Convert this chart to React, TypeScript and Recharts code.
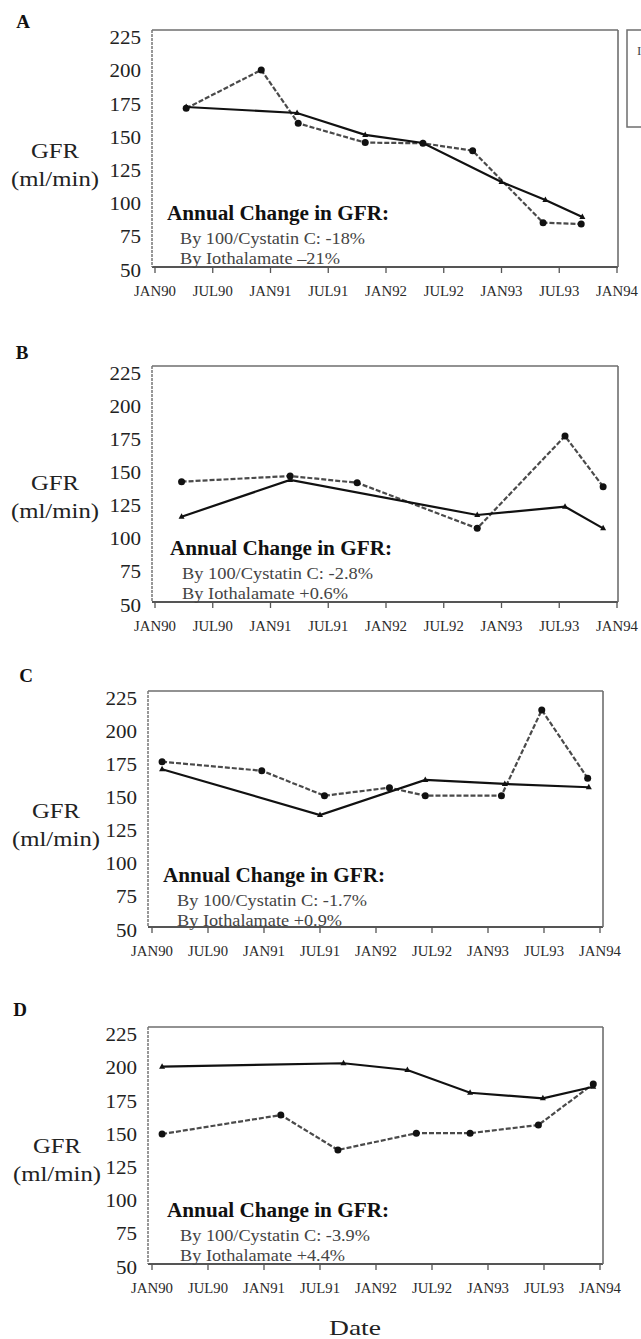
import React from "react";
import { LineChart, Line, XAxis, YAxis } from "recharts";

// Dates are decimal years: JAN90 = 1990, JUL90 = 1990.5
const X_TICKS = [1990, 1990.5, 1991, 1991.5, 1992, 1992.5, 1993, 1993.5, 1994];
const X_TICK_LABELS = ["JAN90", "JUL90", "JAN91", "JUL91", "JAN92", "JUL92", "JAN93", "JUL93", "JAN94"];
const Y_TICKS = [50, 75, 100, 125, 150, 175, 200, 225];

// Panel A
const A_CYS_DATE = [1990.27, 1991.23, 1991.82, 1992.32, 1993.0, 1993.38, 1993.7];
const A_CYS_GFR = [170.5, 166, 149.5, 143.4, 114, 100.5, 87.7];
const A_IOT_DATE = [1990.27, 1990.92, 1991.24, 1991.82, 1992.32, 1992.75, 1993.36, 1993.69];
const A_IOT_GFR = [169.5, 198.4, 158.2, 143.7, 143.2, 137.6, 83.4, 82.4];

// Panel B
const B_CYS_DATE = [1990.23, 1991.17, 1992.79, 1993.55, 1993.88];
const B_CYS_GFR = [114.5, 142.3, 115.8, 122.1, 105.7];
const B_IOT_DATE = [1990.23, 1991.17, 1991.75, 1992.79, 1993.55, 1993.88];
const B_IOT_GFR = [141, 145.3, 140.2, 105.7, 175.5, 137.2];

// Panel C
const C_CYS_DATE = [1990.09, 1991.5, 1992.44, 1993.15, 1993.9];
const C_CYS_GFR = [169.3, 134.7, 161.2, 158.2, 155.7];
const C_IOT_DATE = [1990.09, 1990.98, 1991.54, 1992.12, 1992.44, 1993.12, 1993.48, 1993.89];
const C_IOT_GFR = [175, 168.2, 149.3, 155.4, 149.3, 149.3, 214.1, 162.5];

// Panel D
const D_CYS_DATE = [1990.09, 1991.71, 1992.28, 1992.84, 1993.49, 1993.94];
const D_CYS_GFR = [198.6, 201.2, 196.1, 179, 174.8, 183.5];
const D_IOT_DATE = [1990.09, 1991.15, 1991.66, 1992.36, 1992.84, 1993.45, 1993.94];
const D_IOT_GFR = [147.9, 162.2, 135.9, 148.5, 148.5, 154.7, 185.6];

const PANEL_LETTERS = ["A", "B", "C", "D"];
const ANNUAL_CYS = ["-18%", "-2.8%", "-1.7%", "-3.9%"];
const ANNUAL_IOT = ["\u201321%", "+0.6%", "+0.9%", "+4.4%"];

const toPoints = (dates: number[], gfr: number[]) => dates.map((t, i) => ({ t, v: gfr[i] }));

const SERIES = [
  { cys: toPoints(A_CYS_DATE, A_CYS_GFR), iot: toPoints(A_IOT_DATE, A_IOT_GFR) },
  { cys: toPoints(B_CYS_DATE, B_CYS_GFR), iot: toPoints(B_IOT_DATE, B_IOT_GFR) },
  { cys: toPoints(C_CYS_DATE, C_CYS_GFR), iot: toPoints(C_IOT_DATE, C_IOT_GFR) },
  { cys: toPoints(D_CYS_DATE, D_CYS_GFR), iot: toPoints(D_IOT_DATE, D_IOT_GFR) },
];

// page layout of each panel (plot frame + text placement)
const LAYOUT = [
  { left: 152, top: 30, right: 618, bottom: 267, padL: 3, padR: 1, letter: [23, 21], gfrX: 55, gfrY: 150, noteX: 167, noteY: 213, subX: 180, w2: 185, w3: 160 },
  { left: 152, top: 366, right: 618, bottom: 602, padL: 3, padR: 1, letter: [22, 352], gfrX: 55, gfrY: 482, noteX: 170, noteY: 548, subX: 182, w2: 191, w3: 166 },
  { left: 148, top: 691, right: 603, bottom: 927, padL: 4, padR: 3, letter: [26, 675], gfrX: 56, gfrY: 810, noteX: 163, noteY: 875, subX: 177, w2: 190, w3: 165 },
  { left: 148, top: 1027, right: 603, bottom: 1264, padL: 4, padR: 3, letter: [20, 1009], gfrX: 57, gfrY: 1145, noteX: 167, noteY: 1210, subX: 180, w2: 190, w3: 165 },
];

const SERIF = "'Liberation Serif', 'Times New Roman', serif";
const FRAME = "#6e6e6e";

const XTick = (props: any) => {
  const { x, y, payload } = props;
  const label = X_TICK_LABELS[X_TICKS.indexOf(payload.value)] ?? "";
  return (
    <text
      x={x}
      y={y}
      dy={16}
      textAnchor="middle"
      dominantBaseline="central"
      fontFamily={SERIF}
      fontSize={14}
      fill="#2a2a2a"
      textLength={label.startsWith("JUL") ? 40 : 42}
      lengthAdjust="spacingAndGlyphs"
    >
      {label}
    </text>
  );
};

const YTick = (props: any) => {
  const { x, y, payload } = props;
  const s = String(payload.value);
  return (
    <text
      x={x}
      y={y}
      dy={3}
      textAnchor="end"
      dominantBaseline="central"
      fontFamily={SERIF}
      fontSize={19}
      fill="#222"
      textLength={s.length * 10.5}
      lengthAdjust="spacingAndGlyphs"
    >
      {s}
    </text>
  );
};

const triDot = (p: any) => {
  const { cx, cy, key } = p;
  if (cx == null || cy == null) return <g key={key} />;
  return <path key={key} d={`M${cx},${cy - 3.5}L${cx + 3},${cy + 2}L${cx - 3},${cy + 2}Z`} fill="#111" />;
};

function Panel({ idx }: { idx: number }) {
  const f = LAYOUT[idx];
  const s = SERIES[idx];
  const chartTop = f.top - 10;
  const chartH = f.bottom - f.top + 10 + 40;
  const yAxisW = 60;
  return (
    <div style={{ position: "absolute", left: 0, top: chartTop }}>
      <LineChart
        width={641}
        height={chartH}
        margin={{ top: 9, right: 641 - f.right - 1, bottom: 10, left: f.left - yAxisW }}
      >
        <XAxis
          dataKey="t"
          type="number"
          domain={[1990, 1994]}
          ticks={X_TICKS}
          interval={0}
          padding={{ left: f.padL, right: f.padR }}
          height={30}
          tickSize={6}
          tick={<XTick />}
          tickLine={{ stroke: "#555", strokeWidth: 1.3 }}
          axisLine={{ stroke: "#555", strokeWidth: 1.8 }}
          allowDataOverflow
        />
        <XAxis
          xAxisId="top"
          orientation="top"
          dataKey="t"
          type="number"
          domain={[1990, 1994]}
          height={1}
          tick={false}
          tickLine={false}
          axisLine={{ stroke: FRAME, strokeWidth: 1.6 }}
        />
        <YAxis
          type="number"
          domain={[50, 228.5]}
          ticks={Y_TICKS}
          interval={0}
          width={yAxisW}
          tickSize={0}
          tickMargin={11}
          tick={<YTick />}
          tickLine={false}
          axisLine={{ stroke: "#777", strokeWidth: 1.5, strokeDasharray: "3 1" }}
          allowDataOverflow
        />
        <YAxis
          yAxisId="right"
          orientation="right"
          type="number"
          domain={[50, 228.5]}
          width={1}
          tick={false}
          tickLine={false}
          axisLine={{ stroke: FRAME, strokeWidth: 1.6 }}
        />
        <Line
          data={s.iot}
          dataKey="v"
          type="linear"
          stroke="#4a4a4a"
          strokeWidth={2.2}
          strokeDasharray="5 2"
          dot={{ r: 3.5, fill: "#111", stroke: "#111", strokeWidth: 0 }}
          isAnimationActive={false}
        />
        <Line
          data={s.cys}
          dataKey="v"
          type="linear"
          stroke="#111"
          strokeWidth={2.2}
          dot={triDot}
          isAnimationActive={false}
        />
      </LineChart>
    </div>
  );
}

export default function App() {
  return (
    <div style={{ position: "absolute", left: 0, top: 0, width: 641, height: 1339, background: "#fff" }}>
      {[0, 1, 2, 3].map((i) => (
        <Panel key={i} idx={i} />
      ))}
      <svg
        width={641}
        height={1339}
        style={{ position: "absolute", left: 0, top: 0, pointerEvents: "none" }}
        fontFamily={SERIF}
      >
        {LAYOUT.map((f, i) => (
          <g key={i}>
            <text x={f.letter[0]} y={f.letter[1]} textAnchor="middle" dominantBaseline="central" fontSize={19} fontWeight="bold" fill="#111">
              {PANEL_LETTERS[i]}
            </text>
            <text x={f.gfrX} y={f.gfrY} textAnchor="middle" dominantBaseline="central" fontSize={22} fill="#222" textLength={48} lengthAdjust="spacingAndGlyphs">
              GFR
            </text>
            <text x={f.gfrX} y={f.gfrY + 28} textAnchor="middle" dominantBaseline="central" fontSize={22} fill="#222" textLength={88} lengthAdjust="spacingAndGlyphs">
              (ml/min)
            </text>
            <text x={f.noteX} y={f.noteY} dominantBaseline="central" fontSize={20} fontWeight="bold" fill="#111" textLength={222} lengthAdjust="spacingAndGlyphs">
              Annual Change in GFR:
            </text>
            <text x={f.subX} y={f.noteY + 25} dominantBaseline="central" fontSize={17} fill="#444" textLength={f.w2} lengthAdjust="spacingAndGlyphs">
              {`By 100/Cystatin C: ${ANNUAL_CYS[i]}`}
            </text>
            <text x={f.subX} y={f.noteY + 45} dominantBaseline="central" fontSize={17} fill="#444" textLength={f.w3} lengthAdjust="spacingAndGlyphs">
              {`By Iothalamate ${ANNUAL_IOT[i]}`}
            </text>
          </g>
        ))}
        {/* legend box, cut off at the right edge in the source */}
        <rect x={627} y={30} width={40} height={97} fill="none" stroke={FRAME} strokeWidth={1.5} />
        <text x={637} y={50} dominantBaseline="central" fontSize={13} fill="#444">
          I
        </text>
        <text x={355} y={1327} textAnchor="middle" dominantBaseline="central" fontSize={22} fill="#222" textLength={52} lengthAdjust="spacingAndGlyphs">
          Date
        </text>
      </svg>
    </div>
  );
}
